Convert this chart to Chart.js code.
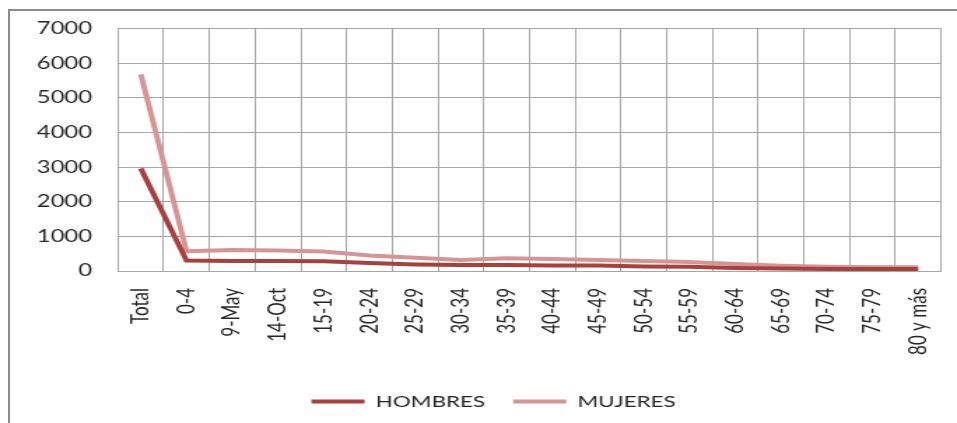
<!DOCTYPE html>
<html>
<head>
<meta charset="utf-8">
<script src="https://cdn.jsdelivr.net/npm/chart.js@4.4.0/dist/chart.umd.min.js"></script>
<style>
  html, body { margin: 0; padding: 0; background: #ffffff; }
  body { width: 957px; height: 423px; overflow: hidden; position: relative; }
  #frameTop { position: absolute; left: 8px; top: 9px; width: 949px; height: 2px; background: #8c8c8c; }
  #frameLeft { position: absolute; left: 8px; top: 9px; width: 2px; height: 414px; background: #8c8c8c; }
  #wrap { position: absolute; left: 0; top: 0; width: 684px; height: 423px;
          transform: scaleX(1.39912); transform-origin: 0 0; }
  canvas { display: block; }
</style>
</head>
<body>
<div id="frameTop"></div>
<div id="frameLeft"></div>
<div id="wrap"><canvas id="c" width="684" height="423"></canvas></div>
<script>
const categories = ["Total", "0-4", "9-May", "14-Oct", "15-19", "20-24", "25-29", "30-34", "35-39",
  "40-44", "45-49", "50-54", "55-59", "60-64", "65-69", "70-74", "75-79", "80 y más"];
const hombres = [2960, 300, 290, 290, 280, 230, 190, 170, 170, 160, 160, 130, 120, 85, 70, 60, 60, 55];
const mujeres = [5680, 570, 610, 590, 560, 450, 380, 320, 370, 350, 320, 290, 260, 200, 150, 120, 110, 105];
const yTicks = [0, 1000, 2000, 3000, 4000, 5000, 6000, 7000];

const textColor = '#262626';
const gridColor = '#a6a6a6';

// shift the legend row so it sits where the reference has it
const legendShift = {
  id: 'legendShift',
  afterLayout(chart) {
    const lg = chart.legend;
    if (lg) { lg.left += 10.4; lg.right += 10.4; }
  }
};

new Chart(document.getElementById('c'), {
  type: 'line',
  data: {
    labels: categories,
    datasets: [
      { label: 'HOMBRES', data: hombres, borderColor: '#a8403e', backgroundColor: '#a8403e',
        borderWidth: 4, pointRadius: 0, tension: 0, fill: false },
      { label: 'MUJERES', data: mujeres, borderColor: '#d69494', backgroundColor: '#d69494',
        borderWidth: 4, pointRadius: 0, tension: 0, fill: false }
    ]
  },
  plugins: [legendShift],
  options: {
    responsive: false,
    animation: false,
    layout: { padding: { top: 27, left: 12, right: 11.4, bottom: 3.5 } },
    plugins: {
      tooltip: { enabled: false },
      legend: {
        position: 'bottom',
        labels: {
          usePointStyle: true,
          pointStyle: 'line',
          pointStyleWidth: 38,
          padding: 20,
          color: textColor,
          font: { family: 'Lato', size: 16 }
        }
      }
    },
    scales: {
      x: {
        offset: true,
        grid: { offset: true, color: gridColor, lineWidth: 1, drawTicks: false },
        border: { color: gridColor, width: 1 },
        ticks: { minRotation: 90, maxRotation: 90, padding: 17, autoSkip: false,
                 color: textColor, font: { family: 'Lato', size: 17 } },
        afterFit: (s) => { s.height = 102.5; s.paddingRight = 0; s.paddingLeft = 0; }
      },
      y: {
        min: 0, max: 7000,
        afterBuildTicks: (s) => { s.ticks = yTicks.map(v => ({ value: v })); },
        grid: { color: gridColor, lineWidth: 1, drawTicks: false },
        border: { color: gridColor, width: 1 },
        ticks: { padding: 18.5, color: textColor, font: { family: 'Lato', size: 17 },
                 callback: (v) => String(v) },
        afterFit: (s) => { s.width = 72.3; }
      }
    }
  }
});
</script>
</body>
</html>
